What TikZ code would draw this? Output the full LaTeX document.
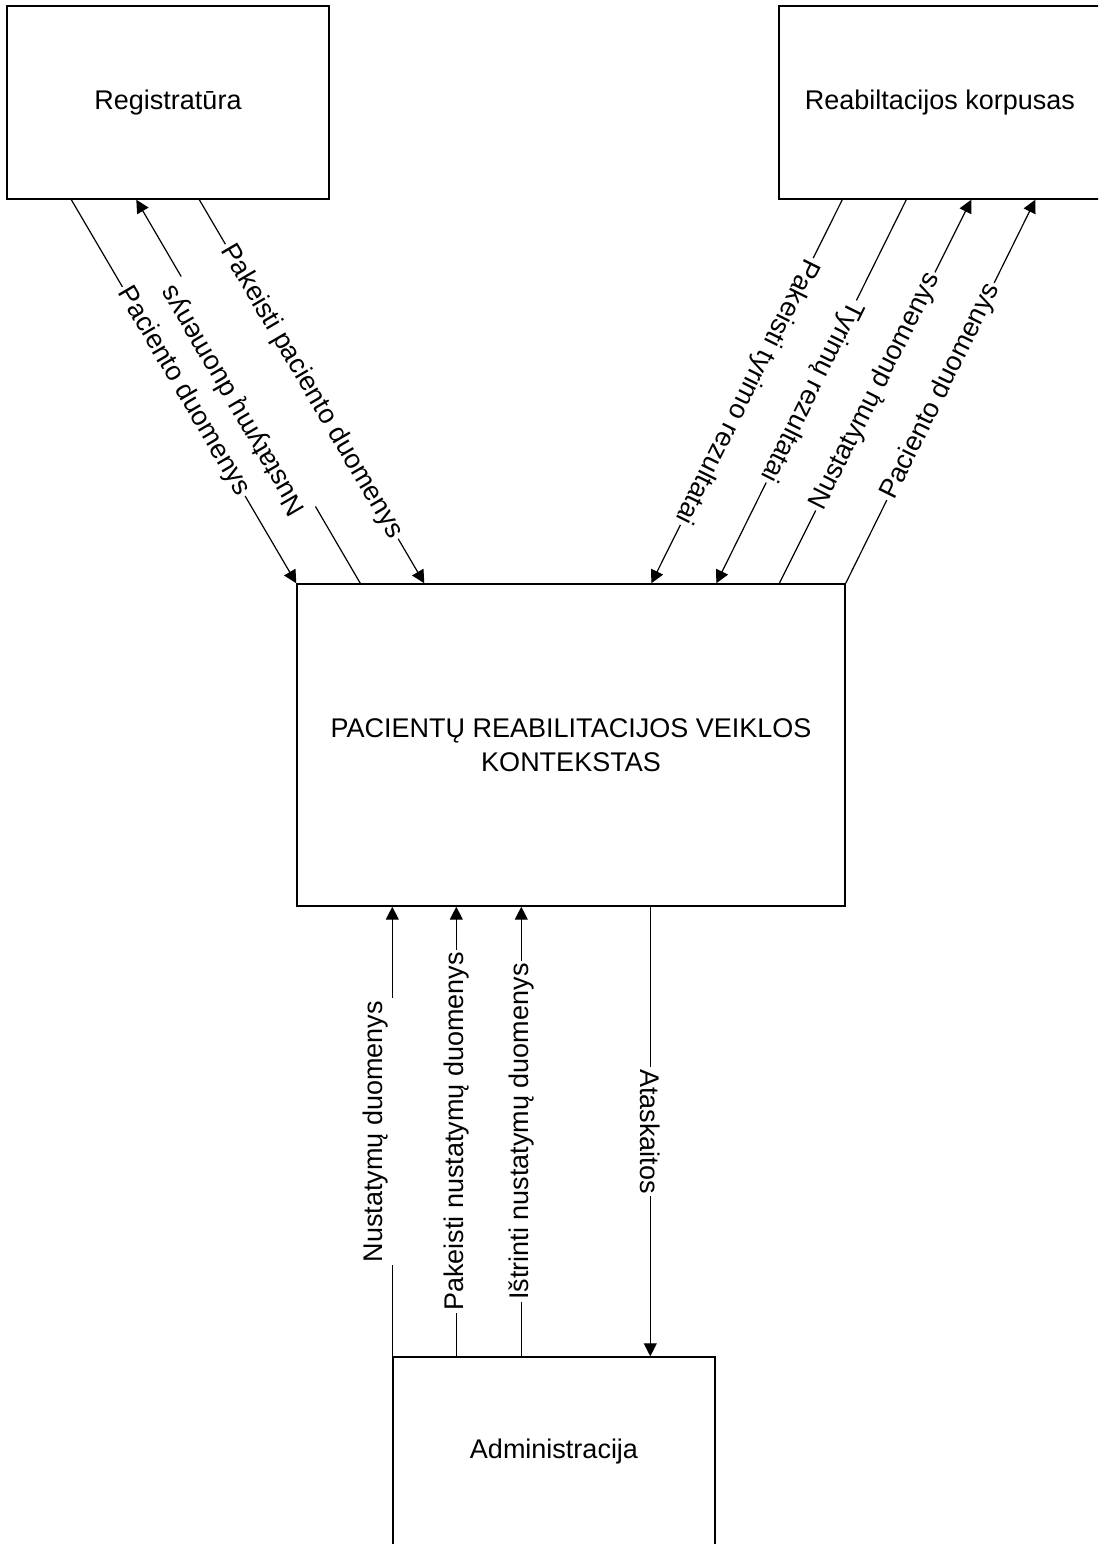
\documentclass[tikz,border=0pt]{standalone}
\usepackage{fontspec}
\setmainfont{Liberation Sans}
\usetikzlibrary{arrows.meta,calc}
\tikzset{
  box/.style={draw, line width=1.4pt, rectangle, inner sep=0pt, align=center, font=\fontsize{27}{34}\selectfont},
  flow/.style={line width=1.2pt, -{Triangle[length=13pt,width=13pt]}},
  lbl/.style={sloped, allow upside down, fill=white, inner xsep=2.5pt, inner ysep=1pt, font=\fontsize{27}{33}\selectfont},
  lblup/.style={lbl, yshift=17pt, inner ysep=8pt},
}
\begin{document}
\begin{tikzpicture}[x=1pt,y=-1pt]
\useasboundingbox (0,0) rectangle (1098,1544);
\clip (0,0) rectangle (1098,1544);
\node[box, minimum width=322pt, minimum height=193pt] (reg) at (168,102.5) {Registratūra};
\node[box, minimum width=322pt, minimum height=193pt] (rk) at (940,102.5) {Reabiltacijos korpusas};
\node[box, minimum width=548pt, minimum height=322pt] (main) at (571,745) {PACIENTŲ REABILITACIJOS VEIKLOS\\KONTEKSTAS};
\node[box, minimum width=322pt, minimum height=190pt] (adm) at (554,1452) {Administracija};

% Registratura connectors
\draw[flow] ($(reg.south west)+(65,0)$) -- node[lbl]{Paciento duomenys} (main.north west);
\draw[flow] ($(main.north west)+(64,0)$) -- node[lblup]{Nustatymų duomenys} ($(reg.south west)+(130,0)$);
\draw[flow] ($(reg.south west)+(193,0)$) -- node[lbl]{Pakeisti paciento duomenys} ($(main.north west)+(128,0)$);

% Reabilitacijos korpusas connectors
\draw[flow] ($(rk.south west)+(64,0)$) -- node[lbl]{Pakeisti tyrimo rezultatai} ($(main.north west)+(355,0)$);
\draw[flow] ($(rk.south west)+(128,0)$) -- node[lbl]{Tyrimų rezultatai} ($(main.north west)+(420,0)$);
\draw[flow] ($(main.north west)+(483,0)$) -- node[lbl]{Nustatymų duomenys} ($(rk.south west)+(193,0)$);
\draw[flow] (main.north east) -- node[lbl]{Paciento duomenys} ($(rk.south west)+(257,0)$);

% Administracija connectors
\coordinate (a1) at (adm.north west);
\coordinate (a2) at ($(adm.north west)+(64,0)$);
\coordinate (a3) at ($(adm.north west)+(129,0)$);
\coordinate (a4) at ($(adm.north west)+(258,0)$);
\draw[flow] (a1) -- node[lblup]{Nustatymų duomenys} (a1 |- main.south);
\draw[flow] (a2) -- node[lbl]{Pakeisti nustatymų duomenys} (a2 |- main.south);
\draw[flow] (a3) -- node[lbl]{Ištrinti nustatymų duomenys} (a3 |- main.south);
\draw[flow] (a4 |- main.south) -- node[lbl]{Ataskaitos} (a4);
\end{tikzpicture}
\end{document}
